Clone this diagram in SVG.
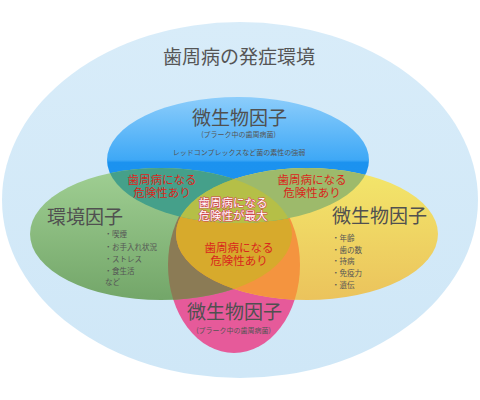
<svg xmlns="http://www.w3.org/2000/svg" width="480" height="400" viewBox="0 0 480 400">
<defs>
<style>
text{font-family:"Noto Sans CJK JP","Noto Sans",sans-serif}
.big{font-size:19px;fill:#505050}
.title{font-size:19px;fill:#555}
.sm{font-size:7px;fill:#555}
.li{font-size:7.5px;fill:#555}
.red,.max{font-family:"Liberation Sans","Noto Sans CJK JP",sans-serif;font-size:11.5px;text-anchor:middle}
.red{fill:#d9261c}
.max{fill:#fff;stroke:#cf4452;stroke-width:1.2px;paint-order:stroke;stroke-linejoin:round}
.mid{text-anchor:middle}
</style>
<linearGradient id="gBlue" gradientUnits="userSpaceOnUse" x1="0" y1="97" x2="0" y2="223">
<stop offset="0" stop-color="#8ccdfb"/>
<stop offset="0.5" stop-color="#3ea8f6"/>
<stop offset="0.52" stop-color="#1b92ef"/>
<stop offset="1" stop-color="#1d94ef"/>
</linearGradient>
<linearGradient id="gGreen" gradientUnits="userSpaceOnUse" x1="0" y1="168" x2="0" y2="300">
<stop offset="0" stop-color="#a0cf93"/>
<stop offset="1" stop-color="#73a669"/>
</linearGradient>
<linearGradient id="gYellow" gradientUnits="userSpaceOnUse" x1="0" y1="168" x2="0" y2="300">
<stop offset="0" stop-color="#f3e76b"/>
<stop offset="1" stop-color="#ebc35c"/>
</linearGradient>
<linearGradient id="gOuter" gradientUnits="userSpaceOnUse" x1="0" y1="22" x2="0" y2="378">
<stop offset="0" stop-color="#d8ecf9"/>
<stop offset="1" stop-color="#cfe7f7"/>
</linearGradient>
<ellipse id="eBlue" cx="238" cy="160" rx="131" ry="63"/>
<ellipse id="eGreen" cx="161" cy="234" rx="131" ry="66"/>
<ellipse id="eYellow" cx="307" cy="234" rx="131" ry="66"/>
<ellipse id="ePink" cx="234" cy="265" rx="66" ry="88"/>
<clipPath id="cBlue"><use href="#eBlue"/></clipPath>
<clipPath id="cGreen"><use href="#eGreen"/></clipPath>
<clipPath id="cYellow"><use href="#eYellow"/></clipPath>
<clipPath id="cPink"><use href="#ePink"/></clipPath>
</defs>
<rect width="480" height="400" fill="#fff"/>
<g id="environment">
<ellipse cx="240" cy="200" rx="238" ry="178" fill="url(#gOuter)"/>
<text class="title mid" x="239" y="64">歯周病の発症環境</text>
</g>
<g id="shapes">
<use href="#ePink" fill="#e65a9a"/>
<use href="#eBlue" fill="url(#gBlue)"/>
<use href="#eGreen" fill="url(#gGreen)"/>
<use href="#eYellow" fill="url(#gYellow)"/>
<use href="#eGreen" fill="#8b7b55" clip-path="url(#cPink)"/>
<use href="#eYellow" fill="#f4943f" clip-path="url(#cPink)"/>
<g clip-path="url(#cPink)"><use href="#eGreen" fill="#d7aa2c" clip-path="url(#cYellow)"/></g>
<use href="#eGreen" fill="#45a08a" clip-path="url(#cBlue)"/>
<use href="#eYellow" fill="#9dba6b" clip-path="url(#cBlue)"/>
<g clip-path="url(#cBlue)"><use href="#eGreen" fill="#b5bf47" clip-path="url(#cYellow)"/></g>
</g>
<g id="microbe-top">
<text class="big mid" x="239.5" y="125">微生物因子</text>
<text class="sm mid" x="238.5" y="137">(プラーク中の歯周病菌)</text>
<text class="sm mid" x="239" y="154.5">レッドコンプレックスなど菌の素性の強弱</text>
</g>
<g id="environment-factor">
<text class="big" x="47" y="224">環境因子</text>
<text class="li" x="104.5" y="237">・喫煙</text>
<text class="li" x="104.5" y="249.5">・お手入れ状況</text>
<text class="li" x="104.5" y="262">・ストレス</text>
<text class="li" x="104.5" y="273.5">・食生活</text>
<text class="li" x="105" y="285">など</text>
</g>
<g id="host-factor">
<text class="big" x="332" y="223">微生物因子</text>
<text class="li" x="332" y="240.5">・年齢</text>
<text class="li" x="332" y="252.5">・歯の数</text>
<text class="li" x="332" y="264">・持病</text>
<text class="li" x="332" y="276">・免疫力</text>
<text class="li" x="332" y="288">・遺伝</text>
</g>
<g id="microbe-bottom">
<text class="big mid" x="234.5" y="319">微生物因子</text>
<text class="sm mid" x="233.5" y="333">(プラーク中の歯周病菌)</text>
</g>
<g id="risk-left">
<text class="red" x="162" y="184">歯周病になる</text>
<text class="red" x="162" y="197">危険性あり</text>
</g>
<g id="risk-right">
<text class="red" x="312" y="184">歯周病になる</text>
<text class="red" x="312" y="197">危険性あり</text>
</g>
<g id="risk-max">
<text class="max" x="233" y="207">歯周病になる</text>
<text class="max" x="233" y="220">危険性が最大</text>
</g>
<g id="risk-bottom">
<text class="red" x="239" y="252">歯周病になる</text>
<text class="red" x="239" y="265">危険性あり</text>
</g>
<g id="connectors"/>
</svg>
